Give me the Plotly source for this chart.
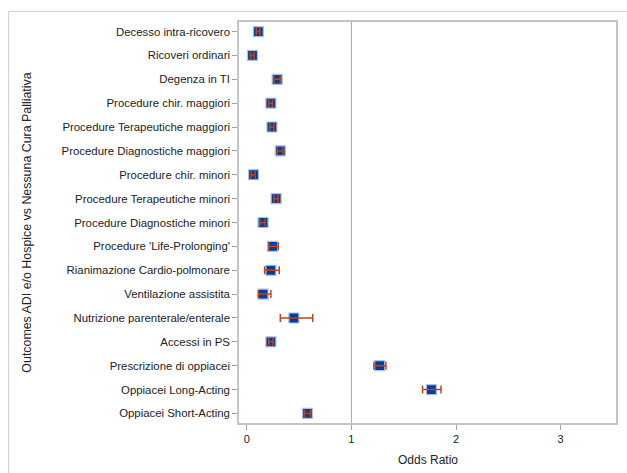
import plotly.graph_objects as go

categories = [
    "Decesso intra-ricovero", "Ricoveri ordinari", "Degenza in TI",
    "Procedure chir. maggiori", "Procedure Terapeutiche maggiori",
    "Procedure Diagnostiche maggiori", "Procedure chir. minori",
    "Procedure Terapeutiche minori", "Procedure Diagnostiche minori",
    "Procedure 'Life-Prolonging'", "Rianimazione Cardio-polmonare",
    "Ventilazione assistita", "Nutrizione parenterale/enterale",
    "Accessi in PS", "Prescrizione di oppiacei", "Oppiacei Long-Acting",
    "Oppiacei Short-Acting",
]
odds_ratio = [0.11, 0.054, 0.29, 0.23, 0.24, 0.32, 0.064, 0.28, 0.155,
              0.245, 0.23, 0.155, 0.45, 0.23, 1.27, 1.765, 0.58]
ci_low = [0.09, 0.035, 0.26, 0.21, 0.22, 0.29, 0.04, 0.26, 0.124,
          0.21, 0.17, 0.11, 0.32, 0.21, 1.215, 1.68, 0.55]
ci_high = [0.125, 0.07, 0.32, 0.245, 0.26, 0.345, 0.08, 0.30, 0.175,
           0.30, 0.31, 0.23, 0.63, 0.25, 1.33, 1.857, 0.61]
x_ticks = [0, 1, 2, 3]

err_plus = [h - v for h, v in zip(ci_high, odds_ratio)]
err_minus = [v - l for v, l in zip(odds_ratio, ci_low)]

fig = go.Figure()
fig.add_trace(go.Scatter(
    x=odds_ratio, y=categories, mode="markers",
    marker=dict(symbol="square", size=10, color="#0B3C94",
                line=dict(color="#A9C2EA", width=1.2)),
    showlegend=False, hoverinfo="skip",
))
fig.add_trace(go.Scatter(
    x=odds_ratio, y=categories, mode="markers",
    marker=dict(size=1, color="rgba(0,0,0,0)"),
    error_x=dict(type="data", symmetric=False, array=err_plus,
                 arrayminus=err_minus, color="#B8471C", thickness=1.5,
                 width=4),
    showlegend=False,
))

fig.add_vline(x=1, line=dict(color="#A8A8A8", width=1), layer="below")

# outer frame (top and left edges visible)
fig.add_shape(type="rect", xref="paper", yref="paper",
              x0=-0.611, x1=1.2, y0=-0.3, y1=1.026,
              line=dict(color="#D0D0D0", width=1), layer="below")

font = "Liberation Sans, Arial, sans-serif"
fig.add_annotation(
    text="Outcomes ADI e/o Hospice vs Nessuna Cura Palliativa",
    xref="paper", yref="paper", x=-0.5646, y=0.5, textangle=-90,
    xanchor="center", yanchor="middle", showarrow=False,
    font=dict(family=font, size=12.4, color="#222222"),
)
fig.add_annotation(
    text="Odds Ratio", xref="paper", yref="paper", x=0.5, y=-0.0923,
    xanchor="center", yanchor="middle", showarrow=False,
    font=dict(family=font, size=12, color="#222222"),
)

fig.update_layout(
    width=627, height=473,
    margin=dict(l=239, r=9, t=22, b=50),
    paper_bgcolor="white", plot_bgcolor="white",
    font=dict(family=font, size=12, color="#222222"),
    xaxis=dict(
        range=[-0.075, 3.53], tickvals=x_ticks, ticks="outside",
        ticklen=5, tickcolor="#A0A0A0", showgrid=False, zeroline=False,
        showline=True, linecolor="#C4C4C4", linewidth=1.5, mirror=True,
        tickfont=dict(size=11),
    ),
    yaxis=dict(
        categoryorder="array", categoryarray=categories,
        range=[16.4, -0.4], ticks="outside", ticklen=5,
        tickcolor="#A0A0A0", showgrid=False, zeroline=False,
        showline=True, linecolor="#C4C4C4", linewidth=1.5, mirror=True,
        tickfont=dict(size=11.4),
    ),
)

fig.write_html("out.html")
